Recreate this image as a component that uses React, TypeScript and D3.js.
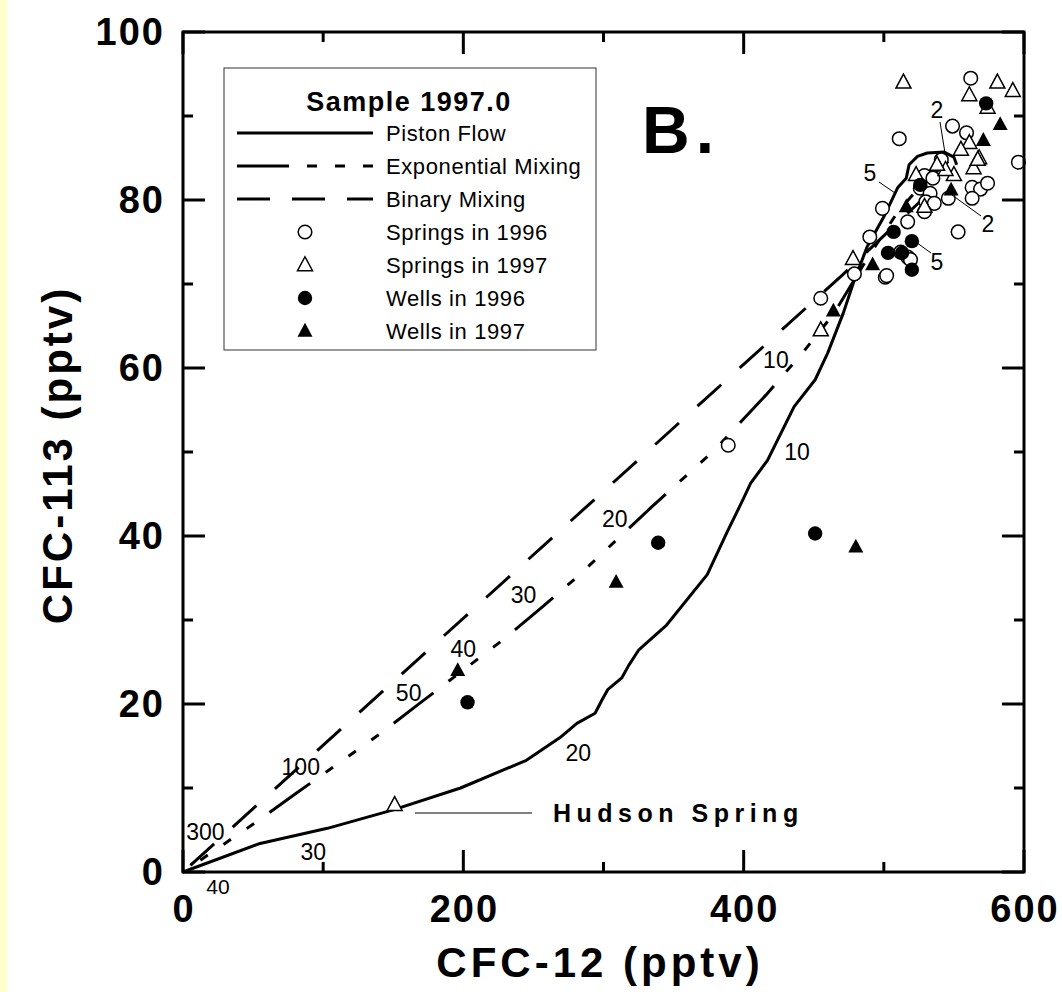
import React from "react";
import * as d3 from "d3";

// ---- data ----
const pistonFlow: [number, number][] = [
  [0, 0], [55, 3.4], [103, 5.2], [150, 7.4], [198, 10], [245, 13.3], [269, 16], [281, 17.7],
  [294, 18.9], [299, 20.5], [303, 21.7], [313, 23.1], [318, 24.6], [325, 26.4], [345, 29.4],
  [374, 35.4], [388, 40.4], [400, 44.5], [405, 46.3], [417, 49], [436, 55.4], [451, 58.6],
  [460, 61.8], [471, 66.5], [478, 70], [488, 74.4], [500, 78], [510, 81.5], [516, 82.6],
  [518, 84.2], [524, 85.2], [531, 85.6], [543, 85.7], [550, 85.1], [552, 84.2],
];
const exponentialMixing: [number, number][] = [
  [0, 0], [51, 5.8], [81, 9.4], [141, 16.5], [169, 20.1], [228, 27.6], [256, 31.5], [281, 35.1],
  [334, 43.4], [379, 50.2], [416, 56.8], [442, 61.8], [464, 66.4], [488, 73], [510, 78.6],
  [528, 82], [546, 84.6],
];
const binaryMixing: [number, number][] = [[0, 0], [470, 71], [546, 83]];

const springs1996: [number, number][] = [
  [389, 50.8], [455, 68.3], [479, 71.2], [501, 70.8], [562, 94.5], [511, 87.3], [549, 88.8],
  [559, 88], [596, 84.5], [541, 84.8], [529, 82.9], [535, 82.6], [526, 81.4], [533, 80.8],
  [530, 79.8], [536, 79.6], [529, 78.6], [546, 80.2], [563, 81.5], [569, 81.3], [574, 82],
  [563, 80.2], [499, 79], [553, 76.2], [490, 75.6], [517, 77.4], [502, 71], [512, 73.8],
  [517, 73.2], [519, 72.9],
];
const springs1997: [number, number][] = [
  [151, 8], [455, 64.5], [478, 73], [514, 94], [561, 92.5], [581, 94], [592, 93], [574, 91],
  [561, 86.8], [555, 86], [568, 85], [564, 83.8], [550, 83], [544, 83.6], [523, 83],
  [529, 79.2], [567, 84.8], [538, 84.2],
];
const wells1996: [number, number][] = [
  [203, 20.2], [339, 39.2], [451, 40.3], [573, 91.5], [526, 81.8], [507, 76.2], [520, 75.1],
  [503, 73.7], [513, 73.7], [520, 71.7],
];
const wells1997: [number, number][] = [
  [196, 24], [309, 34.5], [480, 38.7], [464, 66.8], [492, 72.3], [516, 79.2], [548, 81.2],
  [583, 89], [571, 87.1],
];

const xTicks = [0, 200, 400, 600];
const yTicks = [0, 20, 40, 60, 80, 100];

// age labels: [text, cfc12, cfc113]
const ageLabels: [string, number, number][] = [
  ["10", 423, 60.9], ["20", 308, 42], ["30", 243, 33], ["40", 200, 26.6], ["50", 161, 21.3],
  ["100", 84, 12.5], ["300", 16, 4.8], ["10", 438, 50], ["20", 282, 14.2], ["30", 93, 2.4],
];

const legendItems = [
  { label: "Piston Flow", kind: "solid" },
  { label: "Exponential Mixing", kind: "expo" },
  { label: "Binary Mixing", kind: "binary" },
  { label: "Springs in 1996", kind: "openCircle" },
  { label: "Springs in 1997", kind: "openTriangle" },
  { label: "Wells in 1996", kind: "filledCircle" },
  { label: "Wells in 1997", kind: "filledTriangle" },
];

const FONT = "'Liberation Sans', Arial, Helvetica, sans-serif";
const EXPO_DASH = "50 19 9 19 9 19 9 19";
const BIN_DASH = "32 25";

const tri = (cx: number, cy: number, s = 7.5) =>
  `M${cx},${cy - s * 1.1}L${cx + s},${cy + s * 0.75}L${cx - s},${cy + s * 0.75}Z`;

export default function App() {
  const x = d3.scaleLinear().domain([0, 600]).range([183, 1024]);
  const y = d3.scaleLinear().domain([0, 100]).range([872, 32]);
  const line = d3.line<[number, number]>().x((d) => x(d[0])).y((d) => y(d[1]));

  const x0 = x(0), x1 = x(600), y0 = y(0), y1 = y(100);
  const xMinor = d3.range(100, 600, 200);
  const yMinor = d3.range(10, 100, 20);

  return (
    <svg
      width={1062}
      height={992}
      style={{ position: "absolute", left: 0, top: 0, display: "block" }}
      fontFamily={FONT}
    >
      <rect x={0} y={0} width={1062} height={992} fill="#ffffff" />
      <rect x={0} y={0} width={7} height={992} fill="#ffffcc" />

      {/* curves */}
      <path d={line(binaryMixing) || ""} fill="none" stroke="#000" strokeWidth={3} strokeDasharray={BIN_DASH} strokeDashoffset={-10} />
      <path d={line(exponentialMixing) || ""} fill="none" stroke="#000" strokeWidth={3} strokeDasharray={EXPO_DASH} strokeDashoffset={48} />
      <path d={line(pistonFlow) || ""} fill="none" stroke="#000" strokeWidth={3} strokeLinejoin="round" />

      {/* points */}
      {springs1996.map((d, i) => (
        <circle key={"s96" + i} cx={x(d[0])} cy={y(d[1])} r={6.8} fill="#fff" stroke="#000" strokeWidth={1.5} />
      ))}
      {springs1997.map((d, i) => (
        <path key={"s97" + i} d={tri(x(d[0]), y(d[1]))} fill="#fff" stroke="#000" strokeWidth={1.5} strokeLinejoin="miter" />
      ))}
      {wells1996.map((d, i) => (
        <circle key={"w96" + i} cx={x(d[0])} cy={y(d[1])} r={7.2} fill="#000" />
      ))}
      {wells1997.map((d, i) => (
        <path key={"w97" + i} d={tri(x(d[0]), y(d[1]))} fill="#000" />
      ))}

      {/* age labels */}
      {ageLabels.map((l, i) => (
        <text key={"al" + i} x={x(l[1])} y={y(l[2])} fontSize={23} textAnchor="middle" dominantBaseline="central">
          {l[0]}
        </text>
      ))}
      <text x={218} y={886} fontSize={21} textAnchor="middle" dominantBaseline="central">40</text>
      {/* leader-labelled ages near the cluster */}
      <text x={937} y={110} fontSize={23} textAnchor="middle" dominantBaseline="central">2</text>
      <line x1={940} y1={122} x2={945} y2={153} stroke="#000" strokeWidth={1} />
      <text x={870} y={173} fontSize={23} textAnchor="middle" dominantBaseline="central">5</text>
      <line x1={879} y1={182} x2={895} y2={193} stroke="#000" strokeWidth={1} />
      <text x={988} y={224} fontSize={23} textAnchor="middle" dominantBaseline="central">2</text>
      <line x1={981} y1={216} x2={952} y2={195} stroke="#000" strokeWidth={1} />
      <text x={937} y={262} fontSize={23} textAnchor="middle" dominantBaseline="central">5</text>
      <line x1={931} y1={253} x2={913} y2={240} stroke="#000" strokeWidth={1} />

      {/* Hudson Spring */}
      <line x1={415} y1={813} x2={532} y2={813} stroke="#000" strokeWidth={1} />
      <text x={553} y={813} fontSize={25} fontWeight="bold" letterSpacing={5.5} dominantBaseline="central">Hudson Spring</text>

      {/* B. */}
      <text x={642} y={153} fontSize={66} fontWeight="bold" letterSpacing={6}>B.</text>

      {/* axes frame */}
      <rect x={x0} y={y1} width={x1 - x0} height={y0 - y1} fill="none" stroke="#000" strokeWidth={3} />
      {xTicks.map((t) => (
        <g key={"xt" + t}>
          <line x1={x(t)} x2={x(t)} y1={y0} y2={y0 - 22} stroke="#000" strokeWidth={3} />
          <line x1={x(t)} x2={x(t)} y1={y1} y2={y1 + 22} stroke="#000" strokeWidth={3} />
        </g>
      ))}
      {xMinor.map((t) => (
        <g key={"xm" + t}>
          <line x1={x(t)} x2={x(t)} y1={y0} y2={y0 - 10} stroke="#000" strokeWidth={3} />
          <line x1={x(t)} x2={x(t)} y1={y1} y2={y1 + 10} stroke="#000" strokeWidth={3} />
        </g>
      ))}
      {yTicks.map((t) => (
        <g key={"yt" + t}>
          <line x1={x0} x2={x0 + 22} y1={y(t)} y2={y(t)} stroke="#000" strokeWidth={3} />
          <line x1={x1} x2={x1 - 22} y1={y(t)} y2={y(t)} stroke="#000" strokeWidth={3} />
        </g>
      ))}
      {yMinor.map((t) => (
        <g key={"ym" + t}>
          <line x1={x0} x2={x0 + 10} y1={y(t)} y2={y(t)} stroke="#000" strokeWidth={3} />
          <line x1={x1} x2={x1 - 10} y1={y(t)} y2={y(t)} stroke="#000" strokeWidth={3} />
        </g>
      ))}

      {/* tick labels */}
      {xTicks.map((t) => (
        <text key={"xl" + t} x={x(t) + 1} y={922} fontSize={38} fontWeight="bold" letterSpacing={2} textAnchor="middle">{t}</text>
      ))}
      {yTicks.map((t) => (
        <text key={"yl" + t} x={165} y={y(t)} fontSize={38} fontWeight="bold" letterSpacing={2} textAnchor="end" dominantBaseline="central">{t}</text>
      ))}

      {/* axis titles */}
      <text x={600} y={977} fontSize={42} fontWeight="bold" letterSpacing={4} textAnchor="middle">CFC-12 (pptv)</text>
      <text transform="translate(72,455) rotate(-90)" fontSize={42} fontWeight="bold" letterSpacing={3} textAnchor="middle">CFC-113 (pptv)</text>

      {/* legend */}
      <rect x={224} y={68} width={372} height={282} fill="#fff" stroke="#333" strokeWidth={1} />
      <text x={409} y={111} fontSize={27} fontWeight="bold" letterSpacing={1.5} textAnchor="middle">Sample 1997.0</text>
      {legendItems.map((it, i) => {
        const cy = 133 + i * 33;
        let sym: React.ReactNode = null;
        if (it.kind === "solid") sym = <line x1={237} x2={373} y1={cy} y2={cy} stroke="#000" strokeWidth={3} />;
        if (it.kind === "expo") sym = <line x1={237} x2={373} y1={cy} y2={cy} stroke="#000" strokeWidth={3} strokeDasharray="52 18 10 18 10 18 10" />;
        if (it.kind === "binary") sym = <line x1={237} x2={373} y1={cy} y2={cy} stroke="#000" strokeWidth={3} strokeDasharray="33 22" />;
        if (it.kind === "openCircle") sym = <circle cx={305} cy={cy} r={6.8} fill="#fff" stroke="#000" strokeWidth={1.5} />;
        if (it.kind === "openTriangle") sym = <path d={tri(305, cy)} fill="#fff" stroke="#000" strokeWidth={1.5} />;
        if (it.kind === "filledCircle") sym = <circle cx={305} cy={cy} r={7.2} fill="#000" />;
        if (it.kind === "filledTriangle") sym = <path d={tri(305, cy)} fill="#000" />;
        return (
          <g key={"lg" + i}>
            {sym}
            <text x={386} y={cy} fontSize={22} letterSpacing={0.6} dominantBaseline="central">{it.label}</text>
          </g>
        );
      })}
    </svg>
  );
}
